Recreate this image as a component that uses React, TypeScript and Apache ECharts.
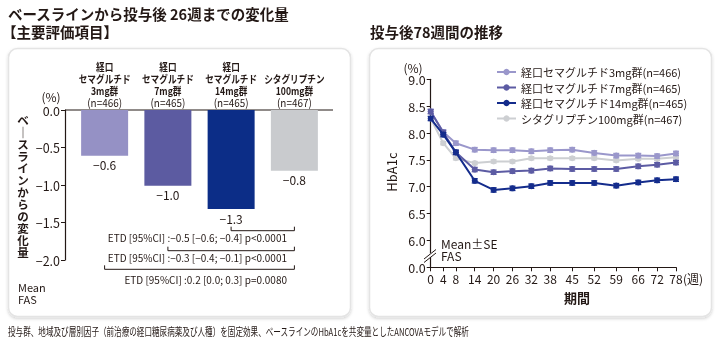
import React, { useEffect, useRef } from "react";
import * as echarts from "echarts";

const FONT = "'Noto Sans CJK JP', 'Noto Sans', sans-serif";
const INK = "#231815";

// Left chart: change from baseline to week 26
const barDrugs = ["経口\nセマグルチド", "経口\nセマグルチド", "経口\nセマグルチド", "シタグリプチン"];
const barDoses = ["3mg群", "7mg群", "14mg群", "100mg群"];
const barNs = ["(n=466)", "(n=465)", "(n=465)", "(n=467)"];
const barValues = [-0.61, -1.01, -1.32, -0.81];
const barColors = ["#9591c5", "#5c5ba1", "#0c2d87", "#c9cbce"];
const barTicks = [0, -0.5, -1.0, -1.5, -2.0];
const etdTexts = [
  "ETD [95%CI] :−0.5 [−0.6; −0.4] p<0.0001",
  "ETD [95%CI] :−0.3 [−0.4; −0.1] p<0.0001",
  "ETD [95%CI] :0.2 [0.0; 0.3] p=0.0080",
];

// Right chart: HbA1c over 78 weeks
const weeks = [0, 4, 8, 14, 20, 26, 32, 38, 45, 52, 59, 66, 72, 78];
const lineNames = [
  "経口セマグルチド3mg群(n=466)",
  "経口セマグルチド7mg群(n=465)",
  "経口セマグルチド14mg群(n=465)",
  "シタグリプチン100mg群(n=467)",
];
const sema3 = [8.40, 8.02, 7.81, 7.69, 7.68, 7.68, 7.66, 7.68, 7.69, 7.63, 7.58, 7.58, 7.57, 7.62];
const sema7 = [8.40, 8.01, 7.64, 7.32, 7.27, 7.29, 7.30, 7.34, 7.33, 7.33, 7.33, 7.38, 7.41, 7.45];
const sema14 = [8.27, 7.97, 7.64, 7.11, 6.94, 6.97, 7.01, 7.07, 7.07, 7.07, 7.02, 7.08, 7.12, 7.14];
const sita = [8.27, 7.81, 7.53, 7.44, 7.47, 7.47, 7.53, 7.53, 7.53, 7.53, 7.49, 7.52, 7.52, 7.55];
const se3 = [0.04, 0.04, 0.04, 0.04, 0.04, 0.04, 0.04, 0.04, 0.04, 0.04, 0.04, 0.04, 0.04, 0.04];
const se7 = [0.04, 0.04, 0.04, 0.04, 0.04, 0.04, 0.04, 0.04, 0.04, 0.04, 0.04, 0.04, 0.04, 0.04];
const se14 = [0.04, 0.04, 0.04, 0.04, 0.04, 0.04, 0.04, 0.04, 0.04, 0.04, 0.04, 0.04, 0.04, 0.04];
const seSita = [0.03, 0.03, 0.03, 0.03, 0.03, 0.03, 0.03, 0.03, 0.03, 0.03, 0.03, 0.03, 0.03, 0.03];
const lineColors = ["#9a97cb", "#5c5ba3", "#142c8c", "#cdcfd2"];
const hbTicks = [5.5, 6.0, 6.5, 7.0, 7.5, 8.0, 8.5, 9.0];

const fmtNeg = (v: number) => (v === 0 ? "0.0" : (v < 0 ? "−" : "") + Math.abs(v).toFixed(1));

export default function App() {
  const ref = useRef<HTMLDivElement>(null);
  useEffect(() => {
    if (!ref.current) return;
    const chart = echarts.init(ref.current, undefined, { renderer: "svg" });

    const lineSets = [
      { name: lineNames[3], data: sita, se: seSita, color: lineColors[3] },
      { name: lineNames[0], data: sema3, se: se3, color: lineColors[0] },
      { name: lineNames[1], data: sema7, se: se7, color: lineColors[1] },
      { name: lineNames[2], data: sema14, se: se14, color: lineColors[2] },
    ];

    const series: any[] = [
      {
        type: "bar",
        xAxisIndex: 0,
        yAxisIndex: 0,
        barWidth: 47,
        data: barValues.map((v, i) => ({ value: v, itemStyle: { color: barColors[i] } })),
        label: {
          show: true,
          position: "bottom",
          distance: 3,
          formatter: (p: any) => fmtNeg(p.value),
          fontFamily: FONT,
          fontSize: 12,
          color: INK,
        },
      },
    ];
    lineSets.forEach((s, k) => {
      series.push({
        type: "line",
        name: s.name,
        xAxisIndex: 1,
        yAxisIndex: 1,
        data: weeks.map((w, i) => [w, s.data[i]]),
        symbol: "circle",
        symbolSize: 6,
        lineStyle: { color: s.color, width: 2 },
        itemStyle: { color: s.color },
        z: 3 + k,
      });
      series.push({
        type: "custom",
        xAxisIndex: 1,
        yAxisIndex: 1,
        silent: true,
        z: 3 + k,
        data: weeks.map((w, i) => [w, s.data[i], s.se[i]]),
        renderItem: (_p: any, api: any) => {
          const x = api.value(0);
          const y = api.value(1);
          const e = api.value(2);
          const t = api.coord([x, y + e]);
          const b = api.coord([x, y - e]);
          const st = { stroke: s.color, lineWidth: 1.3 };
          return {
            type: "group",
            children: [
              { type: "line", shape: { x1: t[0], y1: t[1], x2: b[0], y2: b[1] }, style: st },
              { type: "line", shape: { x1: t[0] - 3, y1: t[1], x2: t[0] + 3, y2: t[1] }, style: st },
              { type: "line", shape: { x1: b[0] - 3, y1: b[1], x2: b[0] + 3, y2: b[1] }, style: st },
            ],
          };
        },
      });
    });

    const txt = (text: string, x: number, y: number, extra: any = {}, el: any = {}) => {
      const fs = extra.fontSize ?? 12;
      return {
        type: "text",
        x,
        y,
        ...el,
        style: {
          text,
          fontFamily: FONT,
          fontSize: fs,
          lineHeight: fs,
          fill: INK,
          textVerticalAlign: "middle",
          ...extra,
        },
      };
    };
    const lineEl = (x1: number, y1: number, x2: number, y2: number, w = 1) => ({
      type: "line",
      shape: { x1, y1, x2, y2 },
      style: { stroke: INK, lineWidth: w },
    });
    const bracket = (x1: number, x2: number, y: number) => ({
      type: "polyline",
      shape: { points: [[x1, y - 4], [x1, y], [x2, y], [x2, y - 4]] },
      style: { stroke: INK, lineWidth: 1, fill: null },
    });

    const vName = "ベ｜スラインからの変化量".split("").join("\n");

    // category labels above the bars (condensed like the original typeface)
    const catLabels: any[] = [];
    barDrugs.forEach((d, i) => {
      const cx = 73 + (253 / 4) * (i + 0.5);
      const lines = (d + "\n" + barDoses[i] + "\n" + barNs[i]).split("\n");
      const ys = [102, 90.8, 79, 66.8];
      lines
        .slice()
        .reverse()
        .forEach((ln, j) => {
          catLabels.push(
            txt(
              ln,
              cx,
              ys[j],
              { textAlign: "center", fontSize: 10.8, fontWeight: j === 0 ? "normal" : "bold" },
              { scaleX: j === 0 ? 0.92 : 0.8 }
            )
          );
        });
    });

    const graphic: any[] = [
      {
        type: "rect",
        z: -100,
        shape: { x: 8.5, y: 48.5, width: 342, height: 268, r: 9 },
        style: { fill: "#fff", stroke: "#e4e4e4", lineWidth: 1.5, shadowBlur: 3, shadowOffsetY: 1.5, shadowColor: "rgba(0,0,0,0.18)" },
      },
      {
        type: "rect",
        z: -100,
        shape: { x: 369.5, y: 48.5, width: 342, height: 268, r: 9 },
        style: { fill: "#fff", stroke: "#e4e4e4", lineWidth: 1.5, shadowBlur: 3, shadowOffsetY: 1.5, shadowColor: "rgba(0,0,0,0.18)" },
      },
      txt("ベースラインから投与後 26週までの変化量", 8, 13, { fontSize: 14.5, fontWeight: "bold" }),
      txt("【主要評価項目】", 2, 31, { fontSize: 14.5, fontWeight: "bold" }),
      txt("投与後78週間の推移", 370, 31, { fontSize: 14.5, fontWeight: "bold" }),
      ...catLabels,
      txt("(%)", 51, 96, { textAlign: "center", fontSize: 12 }),
      txt(vName, 23, 186, { textAlign: "center", fontSize: 11.5, fontWeight: "bold", lineHeight: 12 }),
      lineEl(65, 110, 333, 110, 1.2),
      bracket(231.1, 294.4, 230.7),
      bracket(167.9, 294.4, 250.7),
      bracket(104.6, 294.4, 269.3),
      txt(etdTexts[0], 287, 237, { textAlign: "right", fontSize: 10 }),
      txt(etdTexts[1], 287, 257.5, { textAlign: "right", fontSize: 10 }),
      txt(etdTexts[2], 287, 279, { textAlign: "right", fontSize: 10 }),
      txt("Mean", 18, 287, { fontSize: 11 }),
      txt("FAS", 18, 298.5, { fontSize: 11 }),
      txt("(%)", 413, 67, { textAlign: "center", fontSize: 12 }),
      txt("HbA1c", 391, 172, { textAlign: "center", fontSize: 13 }, { rotation: Math.PI / 2 }),
      txt("期間", 577, 297, { textAlign: "center", fontSize: 13, fontWeight: "bold" }),
      txt("(週)", 683, 278.5, { fontSize: 12 }),
      txt("Mean±SE", 441, 243.5, { fontSize: 12 }),
      txt("FAS", 441, 255.5, { fontSize: 12 }),
      {
        type: "polygon",
        z: 50,
        shape: { points: [[424, 258], [436, 249], [436, 253], [424, 262]] },
        style: { fill: "#fff" },
      },
      { ...lineEl(424, 259, 436, 249.5), z: 51 },
      { ...lineEl(424, 262.5, 436, 253), z: 51 },
      txt(
        "投与群、地域及び層別因子（前治療の経口糖尿病薬及び人種）を固定効果、ベースラインのHbA1cを共変量としたANCOVAモデルで解析",
        8,
        331,
        { fontSize: 11 },
        { scaleX: 0.69 }
      ),
    ];

    chart.setOption({
      animation: false,
      textStyle: { fontFamily: FONT },
      grid: [
        { left: 73, top: 110, width: 253, height: 150 },
        { left: 430.7, top: 79.3, width: 245.3, height: 188 },
      ],
      xAxis: [
        {
          type: "category",
          gridIndex: 0,
          position: "top",
          data: barDoses,
          axisLine: { show: false },
          axisTick: { show: false },
          axisLabel: { show: false },
        },
        {
          type: "value",
          gridIndex: 1,
          min: 0,
          max: 78,
          splitLine: { show: false },
          axisLine: { lineStyle: { color: INK, width: 1.2 } },
          axisTick: { customValues: weeks, length: 4, lineStyle: { color: INK } },
          axisLabel: { customValues: weeks, margin: 5, fontSize: 12, color: INK, fontFamily: FONT },
        },
      ],
      yAxis: [
        {
          type: "value",
          gridIndex: 0,
          min: -2,
          max: 0,
          interval: 0.5,
          offset: 8,
          splitLine: { show: false },
          axisLine: { show: true, lineStyle: { color: INK, width: 1.2 } },
          axisTick: { show: true, length: 4, lineStyle: { color: INK } },
          axisLabel: { margin: 5, fontSize: 12.5, color: INK, fontFamily: FONT, formatter: (v: number) => fmtNeg(v), customValues: barTicks },
        },
        {
          type: "value",
          gridIndex: 1,
          min: 5.5,
          max: 9,
          interval: 0.5,
          splitLine: { show: false },
          axisLine: { show: true, lineStyle: { color: INK, width: 1.2 } },
          axisTick: { show: true, length: 4, lineStyle: { color: INK } },
          axisLabel: {
            margin: 5,
            fontSize: 12.5,
            color: INK,
            fontFamily: FONT,
            customValues: hbTicks,
            formatter: (v: number) => (Math.abs(v - 5.5) < 1e-6 ? "0.0" : v.toFixed(1)),
          },
        },
      ],
      legend: {
        data: lineNames,
        orient: "vertical",
        left: 491,
        top: 61,
        itemWidth: 19,
        itemHeight: 8,
        itemGap: 3.5,
        textStyle: { fontSize: 11, color: INK, fontFamily: FONT, lineHeight: 12 },
      },
      series,
      graphic,
    });
    return () => chart.dispose();
  }, []);
  return <div ref={ref} style={{ position: "fixed", left: 0, top: 0, width: 720, height: 362 }} />;
}
